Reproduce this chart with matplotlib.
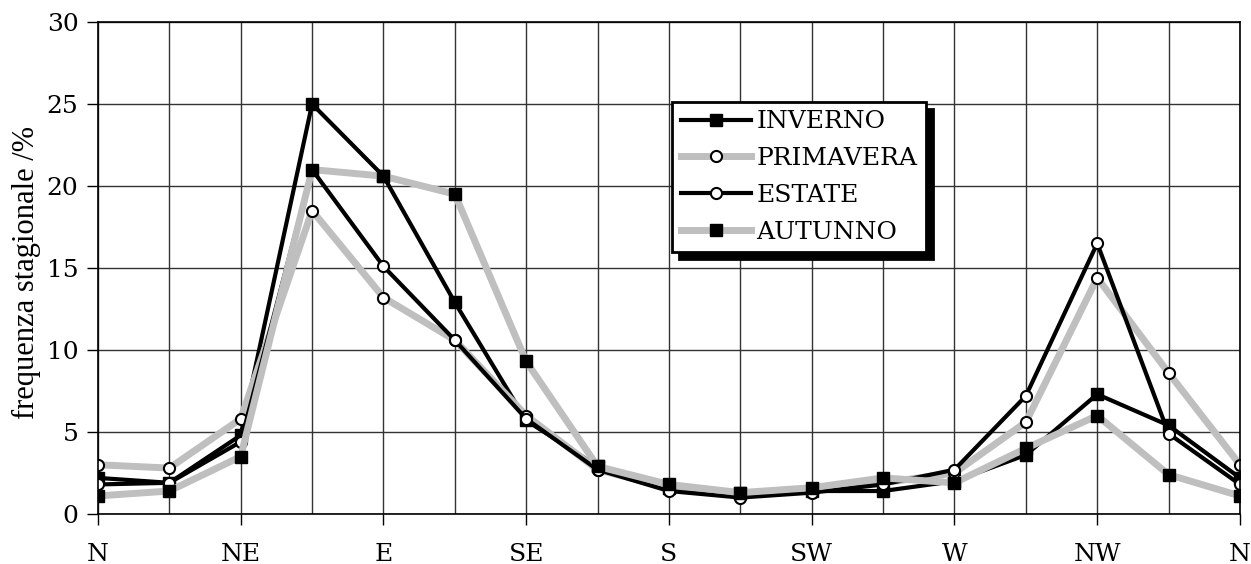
import matplotlib.pyplot as plt

direzioni = ['N', 'NNE', 'NE', 'ENE', 'E', 'ESE', 'SE', 'SSE', 'S',
             'SSW', 'SW', 'WSW', 'W', 'WNW', 'NW', 'NNW', 'N']
etichette = ['N', 'NE', 'E', 'SE', 'S', 'SW', 'W', 'NW', 'N']

inverno = [2.2, 1.9, 4.8, 25.0, 20.6, 12.9, 5.7, 2.9, 1.6, 1.3, 1.4, 1.4, 2.0, 3.6, 7.3, 5.4, 2.2]
primavera = [3.0, 2.8, 5.8, 18.5, 13.2, 10.6, 6.0, 2.7, 1.6, 1.2, 1.5, 1.9, 2.5, 5.6, 14.4, 8.6, 3.0]
estate = [1.8, 1.9, 4.4, 21.0, 15.1, 10.6, 5.8, 2.7, 1.4, 1.0, 1.3, 1.8, 2.7, 7.2, 16.5, 4.9, 1.8]
autunno = [1.1, 1.4, 3.5, 21.0, 20.6, 19.5, 9.3, 2.9, 1.8, 1.3, 1.6, 2.2, 1.9, 4.0, 6.0, 2.4, 1.1]

plt.rcParams['font.family'] = ['DejaVu Serif']

fig = plt.figure(figsize=(12.51, 5.64), dpi=100)
ax = fig.add_axes([0.0783, 0.0887, 0.9129, 0.8723])

x = list(range(len(direzioni)))
grigio = '#bfbfbf'

ax.plot(x, inverno, color='black', lw=3, marker='s', ms=8,
        mfc='black', mec='black', label='INVERNO')
ax.plot(x, primavera, color=grigio, lw=5, marker='o', ms=8,
        mfc='white', mec='black', mew=1.5, label='PRIMAVERA')
ax.plot(x, estate, color='black', lw=3, marker='o', ms=8,
        mfc='white', mec='black', mew=1.5, label='ESTATE')
ax.plot(x, autunno, color=grigio, lw=5, marker='s', ms=8,
        mfc='black', mec='black', label='AUTUNNO')

ax.set_xlim(0, len(direzioni) - 1)
ax.set_ylim(0, 30)
ax.set_yticks(range(0, 31, 5))
ax.set_xticks(x[::2])
ax.set_xticklabels(etichette)
ax.set_xticks(x, minor=True)
ax.tick_params(axis='both', which='major', labelsize=18, length=8, width=1, direction='out')
ax.tick_params(axis='x', which='minor', length=0)
ax.tick_params(axis='x', pad=13)
ax.tick_params(axis='y', pad=6)
ax.grid(True, which='both', color='#333333', lw=1)
ax.set_axisbelow(True)
for s in ax.spines.values():
    s.set_color('black')
    s.set_linewidth(1.2)

ax.set_ylabel('frequenza stagionale /%', fontsize=22,
              family=['Liberation Serif', 'DejaVu Serif'])
ax.yaxis.set_label_coords(-0.05, 0.49)

leg = ax.legend(loc='upper left', bbox_to_anchor=(0.503, 0.838), fontsize=18,
                frameon=True, fancybox=False, framealpha=1, edgecolor='black',
                shadow={'ox': 5, 'oy': -5, 'color': 'black', 'alpha': 1},
                handlelength=2.8, handletextpad=0.2, labelspacing=0.55,
                borderpad=0.35, borderaxespad=0)
leg.get_frame().set_linewidth(2)

fig.savefig('out.png', dpi=100)
